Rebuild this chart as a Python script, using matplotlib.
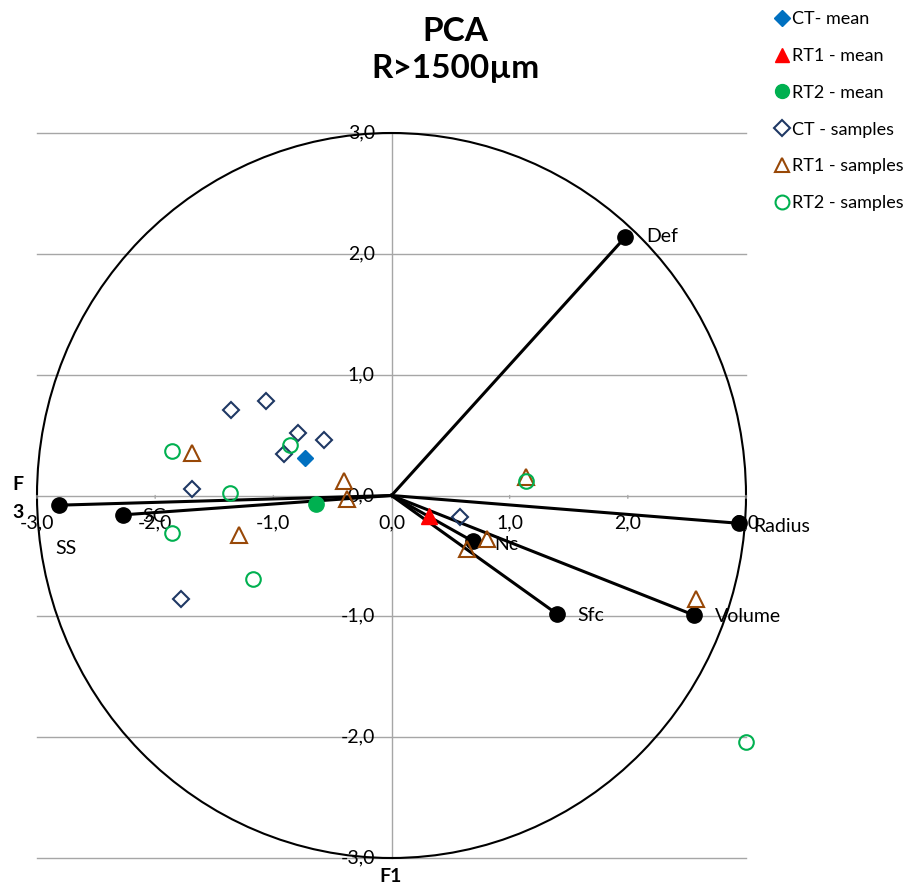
import matplotlib.pyplot as plt
import numpy as np
from matplotlib.lines import Line2D
from matplotlib.patches import Circle

plt.rcParams['font.family'] = ['Lato', 'DejaVu Sans']

# variable loadings (F1, F3)
var_names = ['Def', 'Radius', 'Volume', 'Sfc', 'Nc', 'SC', 'SS']
var_x = [1.98, 2.94, 2.56, 1.40, 0.69, -2.27, -2.81]
var_y = [2.14, -0.23, -0.99, -0.98, -0.38, -0.16, -0.08]

# group means
ct_mean = (-0.73, 0.31)
rt1_mean = (0.32, -0.17)
rt2_mean = (-0.64, -0.07)

# samples
ct_x = [-1.36, -1.06, -0.79, -0.57, -0.91, -1.69, -1.78, 0.58]
ct_y = [0.71, 0.78, 0.52, 0.46, 0.34, 0.05, -0.86, -0.18]
rt1_x = [-1.69, -0.40, -0.38, -1.29, 1.14, 0.81, 0.64, 2.58]
rt1_y = [0.35, 0.12, -0.03, -0.33, 0.15, -0.36, -0.44, -0.86]
rt2_x = [-1.86, -0.86, -1.37, -1.86, -1.17, 1.14, 3.00]
rt2_y = [0.37, 0.42, 0.02, -0.31, -0.69, 0.12, -2.04]

ticks = [-3, -2, -1, 0, 1, 2, 3]

fig = plt.figure(figsize=(9.11, 8.86), dpi=100)
ax = fig.add_axes([37 / 911, 28 / 886, 709 / 911, 725 / 886])
ax.set_xlim(-3, 3)
ax.set_ylim(-3, 3)
ax.axis('off')

grey = '#a6a6a6'
for t in ticks:
    ax.plot([-3, 3], [t, t], color=grey, lw=1, zorder=1, clip_on=False)
ax.plot([0, 0], [-3, 3], color=grey, lw=1, zorder=1, clip_on=False)
for t in ticks:
    ax.annotate('', xy=(t, 0), xytext=(0, -4), textcoords='offset points',
                arrowprops=dict(arrowstyle='-', color=grey, lw=1))

# tick labels
for t in ticks:
    lab = f'{t:.1f}'.replace('.', ',')
    ax.annotate(lab, xy=(t, 0), xytext=(0, -20), textcoords='offset points',
                ha='center', va='center', fontsize=14, zorder=2)
    ax.annotate(lab, xy=(0, t), xytext=(-12, 0), textcoords='offset points',
                ha='right', va='center', fontsize=14, zorder=2)

ax.add_patch(Circle((0, 0), 3, fill=False, ec='black', lw=1.5, zorder=2, clip_on=False))

# variable vectors
for x, y in zip(var_x, var_y):
    ax.plot([0, x], [0, y], color='black', lw=2.2, zorder=3, clip_on=False)
ax.plot(var_x, var_y, 'o', color='black', ms=11, zorder=4, clip_on=False)

offsets = {'Def': (15, 0), 'Radius': (10, -2), 'Volume': (15, -1), 'Sfc': (15, -1),
           'Nc': (15, -2), 'SC': (14, -1), 'SS': (-3, -31)}
for n, x, y in zip(var_names, var_x, var_y):
    dx, dy = offsets[n]
    ax.annotate(n, xy=(x, y), xytext=(dx, dy), textcoords='offset points',
                ha='left', va='center', fontsize=14, zorder=6)

# samples
ax.plot(ct_x, ct_y, 'D', ms=8, mfc='none', mec='#1f3864', mew=1.5, zorder=5, clip_on=False)
ax.plot(rt1_x, rt1_y, '^', ms=11, mfc='none', mec='#984807', mew=1.5, zorder=5, clip_on=False)
ax.plot(rt2_x, rt2_y, 'o', ms=10.5, mfc='none', mec='#00b050', mew=1.5, zorder=5, clip_on=False)

# means
ax.plot(*ct_mean, 'D', ms=8, color='#0070c0', zorder=5)
ax.plot(*rt1_mean, '^', ms=11, color='#ff0000', zorder=5)
ax.plot(*rt2_mean, 'o', ms=11, color='#00b050', zorder=5)

fig.text(455 / 911, 1 - 50 / 886, 'PCA\nR>1500µm', ha='center', va='center',
         fontsize=24, fontweight='bold', linespacing=1.3)
fig.text(391 / 911, 1 - 876 / 886, 'F1', ha='center', va='center', fontsize=14, fontweight='bold')
fig.text(18 / 911, 1 - 484 / 886, 'F', ha='center', va='center', fontsize=14, fontweight='bold')
fig.text(18 / 911, 1 - 512 / 886, '3', ha='center', va='center', fontsize=14, fontweight='bold')

handles = [
    Line2D([], [], ls='none', marker='D', ms=8, color='#0070c0', label='CT- mean'),
    Line2D([], [], ls='none', marker='^', ms=10, color='#ff0000', label='RT1 - mean'),
    Line2D([], [], ls='none', marker='o', ms=10, color='#00b050', label='RT2 - mean'),
    Line2D([], [], ls='none', marker='D', ms=8, mfc='none', mec='#1f3864', mew=1.5, label='CT - samples'),
    Line2D([], [], ls='none', marker='^', ms=10, mfc='none', mec='#984807', mew=1.5, label='RT1 - samples'),
    Line2D([], [], ls='none', marker='o', ms=10, mfc='none', mec='#00b050', mew=1.5, label='RT2 - samples'),
]
fig.legend(handles=handles, loc='upper left', bbox_to_anchor=(768 / 911, 1 - 4 / 886),
           frameon=False, fontsize=13, handlelength=0.8, handletextpad=0.15,
           labelspacing=1.15, borderaxespad=0)

fig.savefig('out.png', dpi=100)
